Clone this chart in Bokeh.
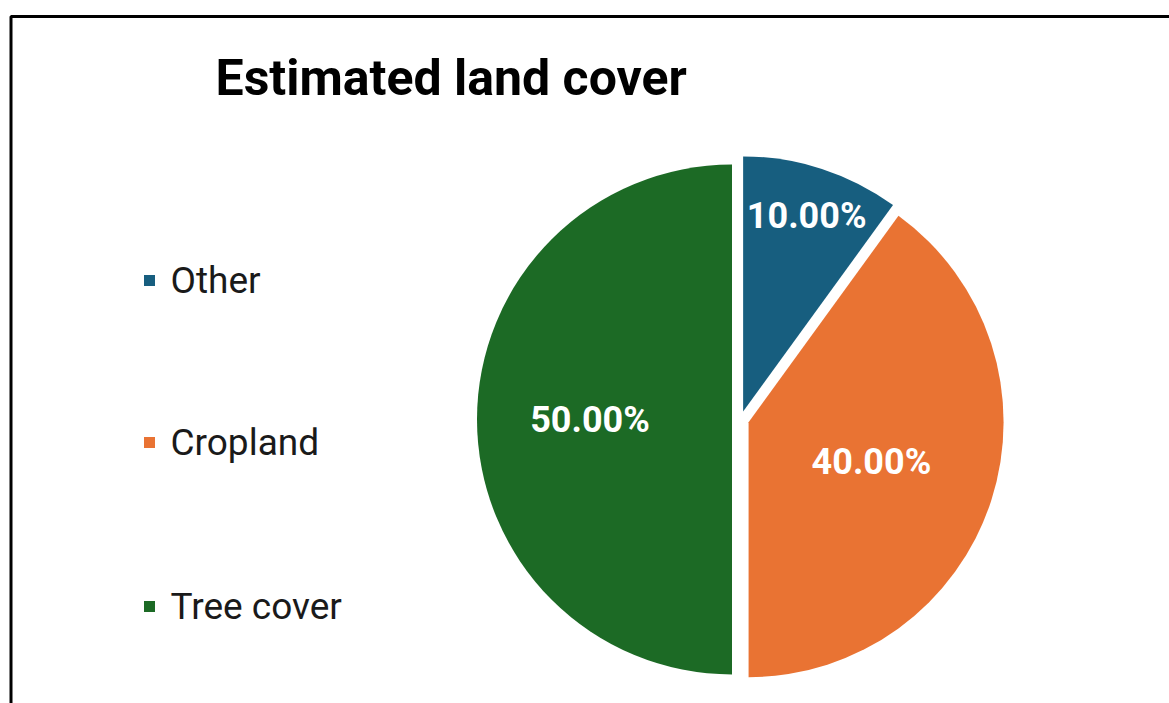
import numpy as np
from bokeh.plotting import figure
from bokeh.models import Range1d, BoxAnnotation, Label, ColumnDataSource
from bokeh.core.properties import value
from bokeh.embed import file_html
from bokeh.resources import INLINE

# ---- data ----
categories = ["Other", "Cropland", "Tree cover"]
shares = [10.0, 40.0, 50.0]
colors = ["#175E7F", "#E97333", "#1C6A25"]
title_text = "Estimated land cover"

# ---- layout constants ----
W, H = 1169, 703
CX, CY = 740, 284          # true pie centre (pixel-like data units)
R = 255
EXPLODE = 8.5
label_r = [0.84, 0.54, 0.59]

p = figure(width=W, height=H, output_backend="svg", toolbar_location=None,
           x_range=Range1d(0, W), y_range=Range1d(0, H),
           x_axis_location=None, y_axis_location=None, min_border=0)
p.grid.visible = False
p.outline_line_color = None
p.background_fill_color = "white"
p.border_fill_color = "white"

# pie geometry: slices run clockwise from 12 o'clock
vals = np.array(shares)
frac = vals / vals.sum()
cum = np.concatenate([[0], np.cumsum(frac)]) * 2 * np.pi
cw_start, cw_end = cum[:-1], cum[1:]
start = np.pi / 2 - cw_end
end = np.pi / 2 - cw_start
mid = (start + end) / 2
xs = CX + EXPLODE * np.cos(mid)
ys = CY + EXPLODE * np.sin(mid)

src = ColumnDataSource(dict(x=xs, y=ys, start=start, end=end, color=colors,
                            cat=categories))
p.wedge(x="x", y="y", radius=R, start_angle="start", end_angle="end",
        direction="anticlock", fill_color="color", line_color=None, source=src)

# slice labels
lr = np.array(label_r) * R
lab = ColumnDataSource(dict(
    x=CX + lr * np.cos(mid), y=CY + lr * np.sin(mid),
    text=[f"{v:.2f}%" for v in shares]))
p.text(x="x", y="y", text="text", source=lab, text_color="white",
       text_font=value("Roboto"), text_font_style="bold",
       text_font_size="36px", text_align="center", text_baseline="middle")

# legend (manual)
leg_y = np.array([423, 261, 97])
p.scatter(x=[149] * 3, y=leg_y, marker="square", size=11,
          fill_color=colors, line_color=None)
p.text(x=[170] * 3, y=leg_y, text=categories, text_color="#1a1a1a",
       text_font=value("Roboto"), text_font_size="37px",
       text_align="left", text_baseline="middle")

# title
p.add_layout(Label(x=215, y=626, text=title_text, text_font="Roboto",
                   text_font_style="bold", text_font_size="50px",
                   text_color="black", text_baseline="middle"))

# chart border
p.add_layout(BoxAnnotation(left=10.5, right=W + 50, top=687, bottom=-50,
                           fill_alpha=0, line_color="black", line_alpha=1,
                           line_width=3))

open("out.html", "w").write(file_html(p, INLINE))
